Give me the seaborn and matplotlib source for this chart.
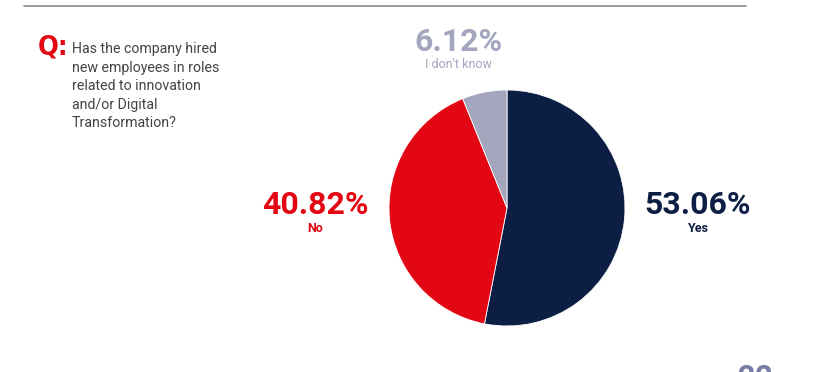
import matplotlib
matplotlib.use("Agg")
import matplotlib.pyplot as plt
import seaborn as sns

# data
labels = ["Yes", "No", "I don't know"]
values = [53.06, 40.82, 6.12]
colors = ["#0d1e45", "#e30613", "#a3a6bc"]

question = ("Has the company hired\nnew employees in roles\nrelated to innovation\n"
            "and/or Digital\nTransformation?")

sns.set_theme(style="white")
plt.rcParams["font.family"] = ["Roboto", "DejaVu Sans"]

W, H = 837, 372
fig = plt.figure(figsize=(W / 100, H / 100), dpi=100)
ax = fig.add_axes([0, 0, 1, 1])

# pie, coordinates in pixels (y measured from bottom)
cx, cy, r = 507, H - 208, 118
ax.pie(values, colors=colors, startangle=90, counterclock=False,
       center=(cx, cy), radius=r, frame=True,
       wedgeprops=dict(linewidth=0.6, edgecolor="white"))
ax.set_xlim(0, W)
ax.set_ylim(0, H)
ax.set_aspect("equal")
ax.axis("off")

# top rule
ax.plot([24, 746], [H - 6, H - 6], color="#8c8c8c", lw=1.2)

# question
ax.text(38, H - 47, "Q:", color="#e30613", fontsize=19.5, fontweight="bold",
        ha="left", va="center", family=["DejaVu Sans"], stretch="condensed")
ax.text(72, H - 42, question, color="#444444", fontsize=10.2,
        ha="left", va="top", linespacing=1.42)

# value labels
pos = {"Yes": (698, 205), "No": (315, 205), "I don't know": (458, 42)}
for lab, val, col in zip(labels, values, colors):
    x, y = pos[lab]
    ax.text(x, H - y, f"{val:.2f}%", color=col, fontsize=23, fontweight="bold",
            ha="center", va="center")
    weight = "normal" if lab == "I don't know" else "bold"
    ax.text(x, H - (y + 23), lab, color=col, fontsize=9, fontweight=weight,
            ha="center", va="center")

# page number, cut off at the bottom as in the source page
ax.text(755, H - 378, "22", color="#6b6f99", fontsize=22, fontweight="bold",
        ha="center", va="center", alpha=0.9)

fig.savefig("out.png", dpi=100)
